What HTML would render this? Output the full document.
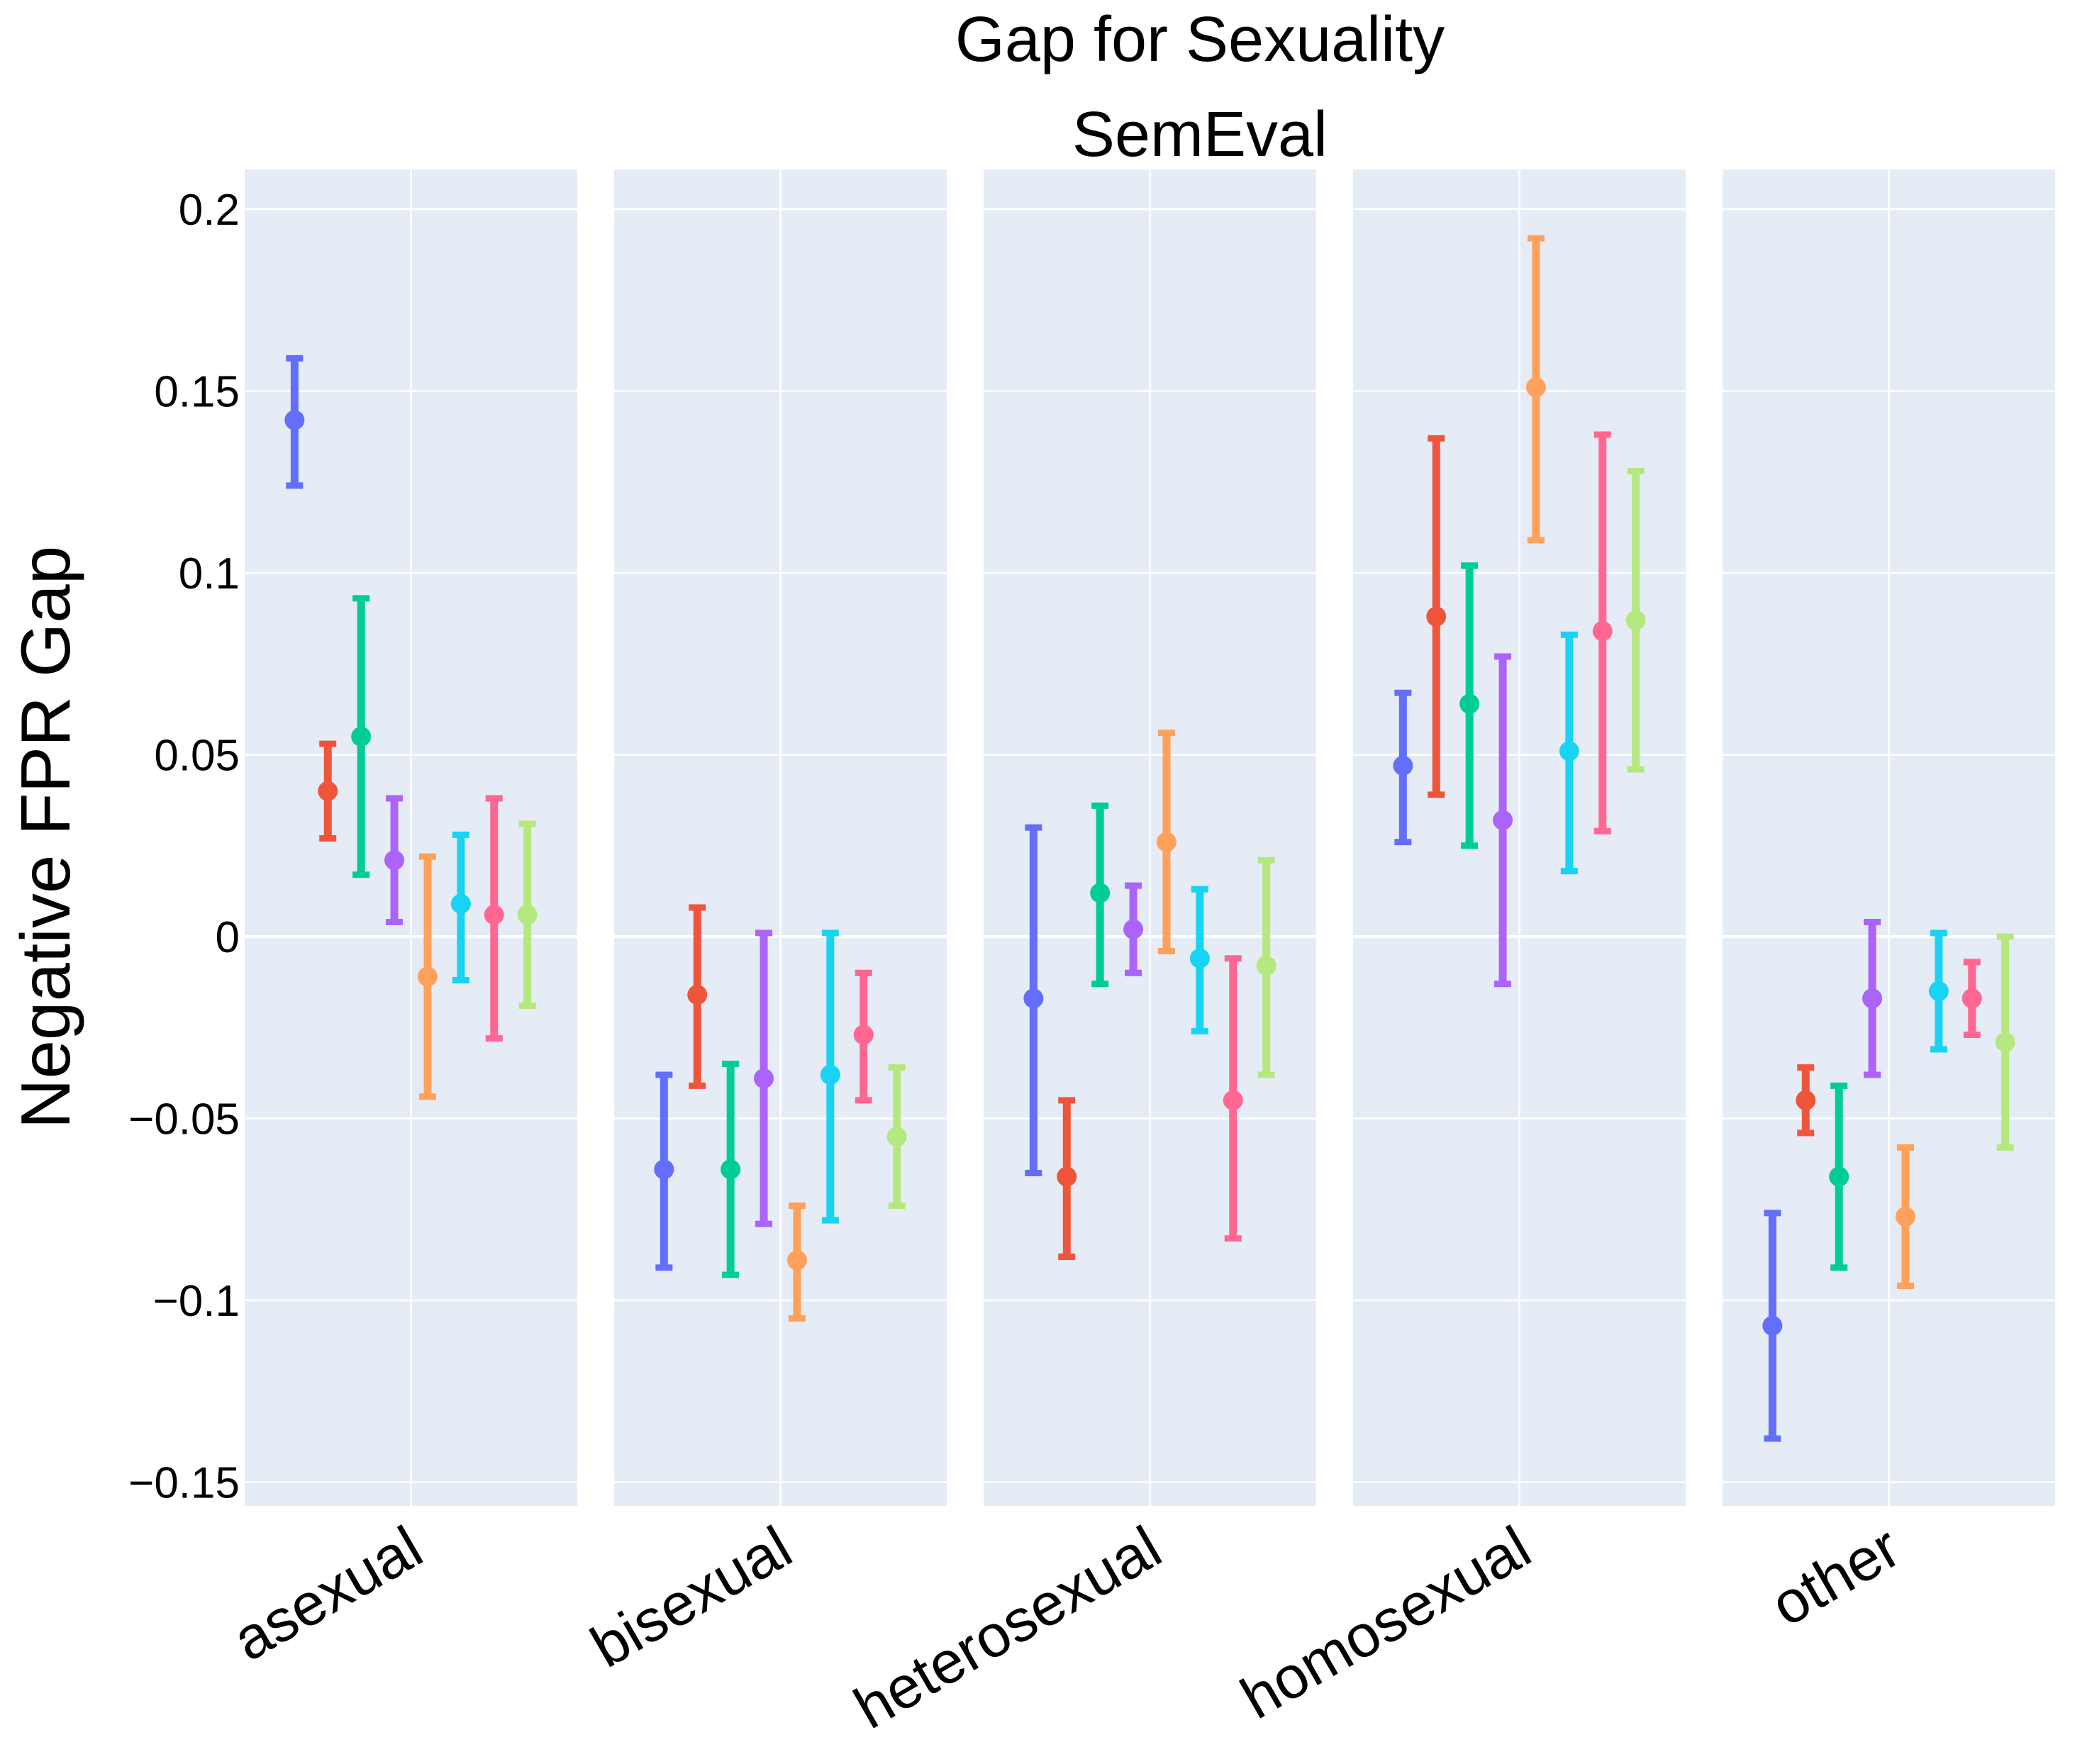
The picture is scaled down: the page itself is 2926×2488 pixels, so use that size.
<!DOCTYPE html>
<html><head><meta charset="utf-8"><style>
html,body{margin:0;padding:0;background:#fff;}
svg{display:block;font-family:"Liberation Sans",Arial,sans-serif;}
</style></head><body>
<svg id="chart" width="2926" height="2488" viewBox="0 0 2926 2488">
<text x="1692" y="86" font-size="90" text-anchor="middle">Gap for Sexuality</text>
<text x="1692" y="220" font-size="90" text-anchor="middle">SemEval</text>
<text transform="translate(98,1181) rotate(-90)" font-size="98" text-anchor="middle">Negative FPR Gap</text>
<g id="plot"></g>
</svg>
<script>
const categories = ["asexual","bisexual","heterosexual","homosexual","other"];
const colors = ["#636efa","#EF553B","#00cc96","#ab63fa","#FFA15A","#19d3f3","#FF6692","#B6E880"];
const yTicks = [0.2,0.15,0.1,0.05,0,-0.05,-0.1,-0.15];
const yTickLabels = ["0.2","0.15","0.1","0.05","0","\u22120.05","\u22120.1","\u22120.15"];
const midAsexual = [0.142,0.040,0.055,0.021,-0.011,0.009,0.006,0.006];
const loAsexual  = [0.124,0.027,0.017,0.004,-0.044,-0.012,-0.028,-0.019];
const hiAsexual  = [0.159,0.053,0.093,0.038,0.022,0.028,0.038,0.031];
const midBisexual = [-0.064,-0.016,-0.064,-0.039,-0.089,-0.038,-0.027,-0.055];
const loBisexual  = [-0.091,-0.041,-0.093,-0.079,-0.105,-0.078,-0.045,-0.074];
const hiBisexual  = [-0.038,0.008,-0.035,0.001,-0.074,0.001,-0.010,-0.036];
const midHetero = [-0.017,-0.066,0.012,0.002,0.026,-0.006,-0.045,-0.008];
const loHetero  = [-0.065,-0.088,-0.013,-0.010,-0.004,-0.026,-0.083,-0.038];
const hiHetero  = [0.030,-0.045,0.036,0.014,0.056,0.013,-0.006,0.021];
const midHomo = [0.047,0.088,0.064,0.032,0.151,0.051,0.084,0.087];
const loHomo  = [0.026,0.039,0.025,-0.013,0.109,0.018,0.029,0.046];
const hiHomo  = [0.067,0.137,0.102,0.077,0.192,0.083,0.138,0.128];
const midOther = [-0.107,-0.045,-0.066,-0.017,-0.077,-0.015,-0.017,-0.029];
const loOther  = [-0.138,-0.054,-0.091,-0.038,-0.096,-0.031,-0.027,-0.058];
const hiOther  = [-0.076,-0.036,-0.041,0.004,-0.058,0.001,-0.007,0.000];
const mids=[midAsexual,midBisexual,midHetero,midHomo,midOther];
const los=[loAsexual,loBisexual,loHetero,loHomo,loOther];
const his=[hiAsexual,hiBisexual,hiHetero,hiHomo,hiOther];

const NS="http://www.w3.org/2000/svg";
const plotG=document.getElementById('plot');
const panelW=469, panelGap=52, panelX0=345, plotTop=239, plotBottom=2124;
function yScale(v){return 1321-(v/0.05)*256.5;}
function panelX(i){return panelX0+i*(panelW+panelGap);}
function sx(i,s){return panelX(i)+panelW/2+(s-3.5)*46.9;}
function mk(tag,attrs){const e=document.createElementNS(NS,tag);for(const k in attrs)e.setAttribute(k,attrs[k]);plotG.appendChild(e);return e;}

categories.forEach((c,i)=>{
  const r=mk('rect',{x:panelX(i),y:plotTop,width:panelW,height:plotBottom-plotTop,fill:'#e5ecf6'});
  
  
  yTicks.forEach(t=>{
    const l=mk('line',{x1:panelX(i),x2:panelX(i)+panelW,y1:yScale(t),y2:yScale(t),stroke:'#fff','stroke-width':t===0?4:2.5});
    
    
  });
  const vl=mk('line',{x1:panelX(i)+panelW/2,x2:panelX(i)+panelW/2,y1:plotTop,y2:plotBottom,stroke:'#fff','stroke-width':2.5});
  
  
  const cx=panelX(i)+panelW/2+22;
  const lab=mk('text',{x:cx,y:2200,'font-size':84,'text-anchor':'end',transform:'rotate(-30 '+cx+' 2200)'});
  lab.textContent=c;
  
  
});
yTicks.forEach((t,k)=>{
  const tx=mk('text',{x:338,y:yScale(t)+22,'font-size':62,'text-anchor':'end'});
  tx.textContent=yTickLabels[k];
  
  
});
categories.forEach((c,i)=>{
  for(let s=0;s<8;s++){
    const x=sx(i,s),col=colors[s];
    const grp=document.createElementNS(NS,'g');plotG.appendChild(grp);
    
    
    const add=(tag,a)=>{const e=document.createElementNS(NS,tag);for(const k in a)e.setAttribute(k,a[k]);grp.appendChild(e);};
    add('line',{x1:x,x2:x,y1:yScale(los[i][s]),y2:yScale(his[i][s]),stroke:col,'stroke-width':11});
    add('line',{x1:x-12,x2:x+12,y1:yScale(los[i][s]),y2:yScale(los[i][s]),stroke:col,'stroke-width':9});
    add('line',{x1:x-12,x2:x+12,y1:yScale(his[i][s]),y2:yScale(his[i][s]),stroke:col,'stroke-width':9});
    add('circle',{cx:x,cy:yScale(mids[i][s]),r:14,fill:col});
  }
});
</script>
</body></html>
